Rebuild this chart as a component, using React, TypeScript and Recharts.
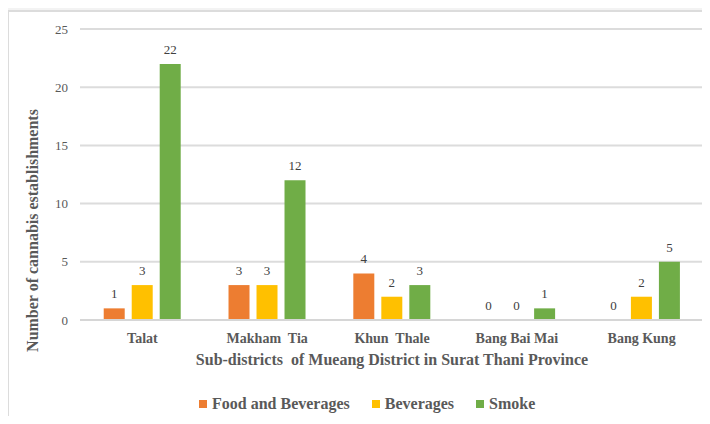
import { BarChart, Bar, XAxis, YAxis, CartesianGrid, Legend, LabelList } from 'recharts'

const categories = ['Talat', 'Makham\u00A0 Tia', 'Khun\u00A0 Thale', 'Bang Bai Mai', 'Bang Kung']
const foodAndBeverages = [1, 3, 4, 0, 0]
const beverages = [3, 3, 2, 0, 2]
const smoke = [22, 12, 3, 1, 5]
const yTicks = [0, 5, 10, 15, 20, 25]

const series = [
  { key: 'food', name: 'Food and Beverages', color: '#ED7D31' },
  { key: 'bev', name: 'Beverages', color: '#FFC000' },
  { key: 'smoke', name: 'Smoke', color: '#70AD47' },
]

const data = categories.map((name, i) => ({
  name,
  food: foodAndBeverages[i],
  bev: beverages[i],
  smoke: smoke[i],
}))

const FONT = "'Liberation Serif', 'DejaVu Serif', serif"
const TEXT = '#595959'

function LegendContent() {
  return (
    <div
      style={{
        display: 'flex',
        alignItems: 'center',
        height: 24,
        paddingLeft: 199,
        fontFamily: FONT,
        fontSize: 16,
        fontWeight: 'bold',
        color: TEXT,
      }}
    >
      {series.map((s) => (
        <div key={s.key} style={{ display: 'flex', alignItems: 'center', marginRight: 22 }}>
          <span style={{ width: 8, height: 8, background: s.color, marginRight: 5 }} />
          <span style={{ lineHeight: '24px' }}>{s.name}</span>
        </div>
      ))}
    </div>
  )
}

export default function App() {
  return (
    <div style={{ position: 'relative', width: 710, height: 424, margin: -8, background: '#f3f3f3', overflow: 'hidden' }}>
      <div
        style={{
          position: 'absolute',
          left: 7,
          top: 10,
          right: -4,
          bottom: -4,
          background: '#fff',
          border: '2px solid #dcdcdc',
        }}
      />
      <div style={{ position: 'absolute', left: 0, top: 0 }}>
        <BarChart
          width={710}
          height={424}
          data={data}
          margin={{ top: 29, right: 6, bottom: 8, left: 0 }}
          barCategoryGap='19%'
          barGap={7}
          style={{ fontFamily: FONT }}
        >
          <CartesianGrid stroke='#dcdcdc' strokeWidth={2} vertical={false} />
          <XAxis
            dataKey='name'
            axisLine={{ stroke: '#d6d6d6', strokeWidth: 2 }}
            tickLine={false}
            tickSize={6}
            tickMargin={7}
            height={72}
            interval={0}
            tick={{ fontSize: 14, fontWeight: 'bold', fill: TEXT, fontFamily: FONT }}
            label={{
              content: ({ viewBox }: any) => (
                <text
                  x={viewBox.x + viewBox.width / 2}
                  y={viewBox.y + 45}
                  textAnchor='middle'
                  fontSize={16}
                  fontWeight='bold'
                  fontFamily={FONT}
                  fill={TEXT}
                >
                  Sub-districts{'\u00A0'} of Mueang District in Surat Thani Province
                </text>
              ),
            }}
          />
          <YAxis
            domain={[0, 25]}
            ticks={yTicks}
            width={80}
            axisLine={false}
            tickLine={false}
            tickSize={6}
            tickMargin={6}
            tick={{ fontSize: 13, fill: TEXT, fontFamily: FONT }}
            label={{
              content: ({ viewBox }: any) => {
                const x = viewBox.x + 37.5
                const y = viewBox.y + viewBox.height / 2 + 56
                return (
                  <text
                    x={x}
                    y={y}
                    transform={`rotate(-90 ${x} ${y})`}
                    textAnchor='middle'
                    fontSize={16}
                    fontWeight='bold'
                    fontFamily={FONT}
                    fill={TEXT}
                  >
                    Number of cannabis establishments
                  </text>
                )
              },
            }}
          />
          <Legend verticalAlign='bottom' height={24} content={<LegendContent />} />
          {series.map((s) => (
            <Bar
              key={s.key}
              dataKey={s.key}
              name={s.name}
              fill={s.color}
              minPointSize={0.01}
              isAnimationActive={false}
            >
              <LabelList
                dataKey={s.key}
                position='top'
                offset={10}
                fontSize={13}
                fontFamily={FONT}
                fill='#404040'
              />
            </Bar>
          ))}
        </BarChart>
      </div>
    </div>
  )
}
